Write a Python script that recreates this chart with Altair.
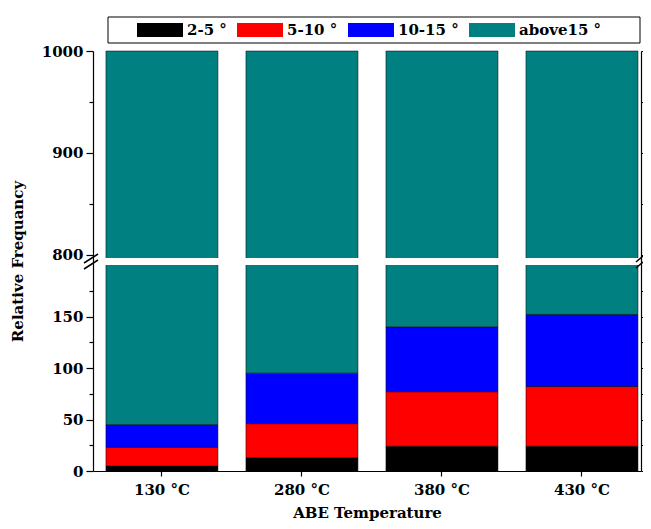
import altair as alt
import pandas as pd

temps = ["130 °C", "280 °C", "380 °C", "430 °C"]
cats = ["2-5 °", "5-10 °", "10-15 °", "above15 °"]
colors = ["#000000", "#ff0000", "#0000ff", "#008080"]
v_2_5 = [5, 13, 24, 24]
v_5_10 = [18, 33, 53, 58]
v_10_15 = [22, 49, 63, 70]
v_above15 = [955, 905, 860, 848]
y_ticks = [0, 25, 50, 75, 100, 125, 150, 175, 800, 850, 900, 950, 1000]

series = [v_2_5, v_5_10, v_10_15, v_above15]
rows = []
for i, t in enumerate(temps):
    for j, c in enumerate(cats):
        rows.append({"temp": t, "cat": c, "order": j, "value": series[j][i]})
df = pd.DataFrame(rows)

W, H = 548, 420
FONT = "DejaVu Serif"
major_test = "(datum.value <= 200 ? datum.value % 50 == 0 : datum.value % 100 == 0)"

yscale = alt.Scale(domain=[0, 200, 797, 1000], range=[H, 214, 207, 0], nice=False, zero=False)

left_axis = alt.Axis(
    title="Relative Frequancy", values=y_ticks, format="d",
    labelExpr=major_test + " ? datum.label : ''",
    tickSize={"condition": {"test": major_test, "value": 7}, "value": 4},
    tickColor="black", tickWidth=1.2, domainColor="black", domainWidth=1.2,
    labelFont=FONT, labelFontWeight="bold", labelFontSize=15, labelColor="black", labelPadding=3,
    titleFont=FONT, titleFontWeight="bold", titleFontSize=15, titleColor="black", titlePadding=16,
    grid=False, zindex=1,
)
right_axis = alt.Axis(
    orient="right", title=None, values=y_ticks, labels=False,
    tickSize={"condition": {"test": major_test, "value": 7}, "value": 4},
    tickColor="black", tickWidth=1.2, domainColor="black", domainWidth=1.2,
    grid=False, zindex=1,
)
x_axis = alt.Axis(
    title="ABE Temperature", labelAngle=0, tickSize=5, tickColor="black", tickWidth=1.2,
    domainColor="black", domainWidth=1.2,
    labelFont=FONT, labelFontWeight="bold", labelFontSize=15, labelColor="black", labelPadding=6,
    titleFont=FONT, titleFontWeight="bold", titleFontSize=15, titleColor="black", titlePadding=8,
    grid=False, zindex=1,
)

one = pd.DataFrame({"a": [0]})

frame = alt.Chart(one).mark_rect(fill="white", stroke="black", strokeWidth=1).encode(
    x=alt.value(15), x2=alt.value(547), y=alt.value(-34), y2=alt.value(-8)
)

bars = alt.Chart(df).mark_bar(stroke="black", strokeWidth=0.5).encode(
    x=alt.X("temp:N", sort=temps,
            scale=alt.Scale(paddingInner=0.2, paddingOuter=0.057, align=0.81), axis=x_axis),
    y=alt.Y("value:Q", stack="zero", scale=yscale, axis=left_axis),
    color=alt.Color("cat:N", scale=alt.Scale(domain=cats, range=colors),
                    legend=alt.Legend(
                        title=None, orient="none", legendX=44, legendY=-29, direction="horizontal",
                        columns=4, symbolType="M-1,-0.3H1V0.3H-1Z", symbolSize=2116, clipHeight=16,
                        labelFont=FONT, labelFontWeight="bold", labelFontSize=15, labelColor="black",
                        columnPadding=10, labelOffset=4, padding=0, symbolStrokeWidth=0,
                        symbolOpacity=1)),
    order=alt.Order("order:Q"),
)

gap = alt.Chart(one).mark_rect(fill="white").encode(
    x=alt.value(0), x2=alt.value(W),
    y=alt.Y(datum=200, scale=yscale, axis=right_axis), y2=alt.Y2(datum=797),
)

# axis-break marks (two short slanted strokes on each side)
def brk(x0, x1, ya, yb):
    return alt.Chart(one).mark_rule(color="black", strokeWidth=1.5).encode(
        x=alt.value(x0), x2=alt.value(x1), y=alt.value(ya), y2=alt.value(yb)
    )

breaks = [
    brk(-9, 5, 212, 203), brk(-9, 5, 218, 209),
    brk(W - 5, W + 2, 211, 205), brk(W - 5, W + 2, 217, 211),
]

chart = alt.layer(frame, bars, gap, *breaks).resolve_axis(y="independent").properties(
    width=W, height=H,
    autosize=alt.AutoSizeParams(type="none"),
    padding={"left": 85, "top": 43, "right": 2, "bottom": 50},
).configure_view(stroke=None)

chart.save("out.html", embed_options={"renderer": "svg", "actions": False})
